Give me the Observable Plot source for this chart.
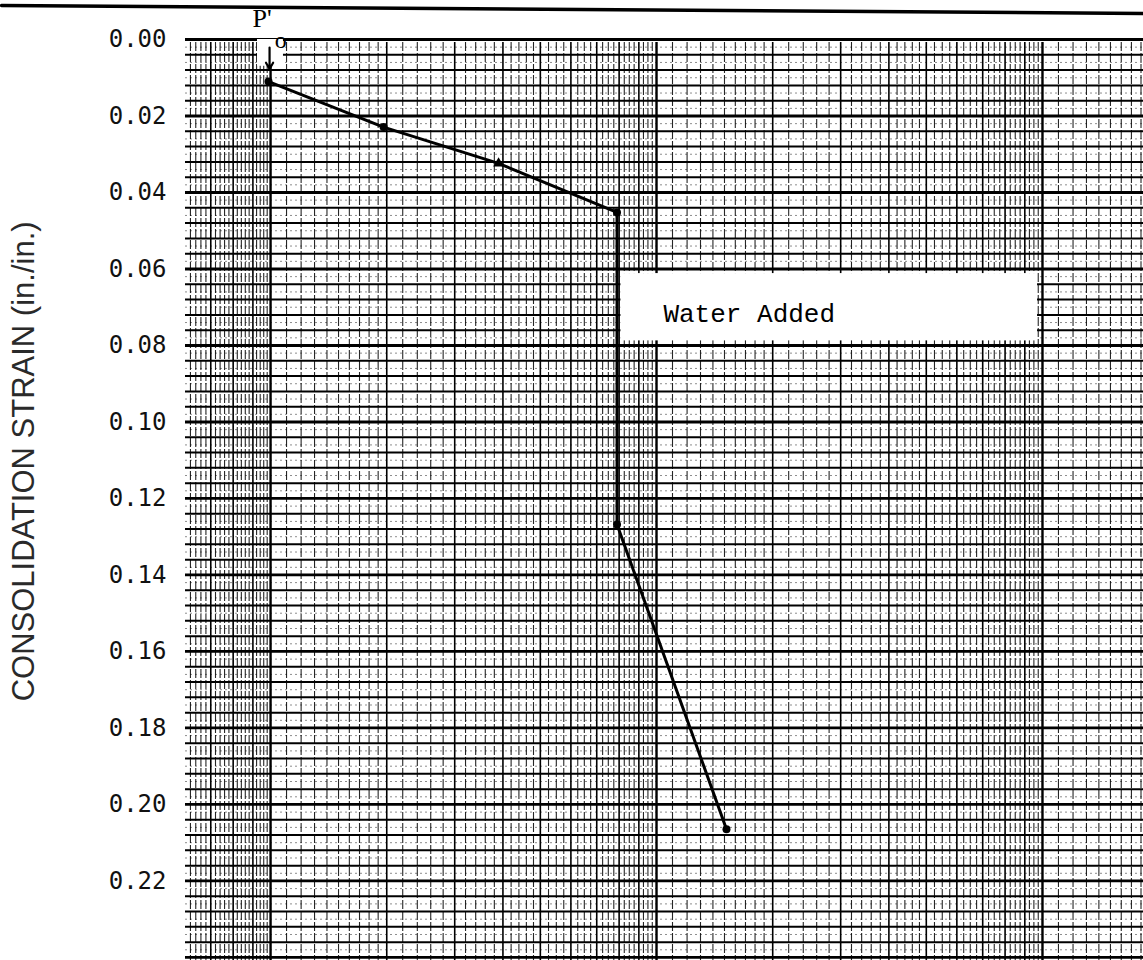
<!DOCTYPE html>
<html>
<head>
<meta charset="utf-8">
<script src="https://cdn.jsdelivr.net/npm/d3@7"></script>
<script src="https://cdn.jsdelivr.net/npm/@observablehq/plot@0.6"></script>
<style>
  html, body { margin: 0; padding: 0; background: #fff; }
  #chart svg { display: block; }
</style>
</head>
<body>
<div id="chart"></div>
<script>
// ---- data ----
const pressure = [0.0988, 0.1962, 0.3897, 0.79, 0.79, 1.518];   // log axis (unlabelled)
const strain   = [0.0110, 0.0229, 0.0324, 0.0452, 0.1268, 0.2065];
const symbols  = ["circle", "circle", "triangle", "circle", "circle", "circle"];

const strainTicks = [0, 0.02, 0.04, 0.06, 0.08, 0.10, 0.12, 0.14, 0.16, 0.18, 0.20, 0.22];
const tickLabels  = ["0.00", "0.02", "0.04", "0.06", "0.08", "0.10", "0.12", "0.14", "0.16", "0.18", "0.20", "0.22"];
const axisTitle   = "CONSOLIDATION STRAIN (in./in.)";
const noteText    = "Water Added";

const xDomain = [0.0602, 18.27];
const yDomain = [0, 0.2408];

// annotation anchors (data units)
const noteBox   = [{x1: 0.8087, x2: 9.71, y1: 0.0612, y2: 0.0788}];
const noteLabel = [{x: 1.042, y: 0.0716, t: noteText}];
const poPatch   = [{x1: 0.0925, x2: 0.108, y1: 0, y2: 0.007}];
const poLabelP  = [{x: 0.0898, y: -0.0055, t: "P'"}];
const poLabelO  = [{x: 0.1062, y: 0.0003, t: "o"}];
const poArrow   = [{x: 0.0994, y1: 0.0021, y2: 0.0077}];
const titlePos  = [{y: 0.1103, t: axisTitle}];
const topBorder = [{x: 0.0201, y: -0.0089}, {x: 18.27, y: -0.0068}];

// ---- log graph-paper grid ----
const decadeLines = [0.1, 1, 10];
const unitLines = [];
for (const d of [0.01, 0.1, 1, 10]) for (let m = 2; m <= 9; m++) unitLines.push(+(m * d).toPrecision(6));
const subSteps = [[1, 2, 0.1], [2, 5, 0.2], [5, 10, 0.25]];
const subLines = [];
for (const d of [0.1, 1, 10]) {
  for (const [a, b, s] of subSteps) {
    for (let k = 1; a + k * s < b - 1e-9; k++) {
      const m = a + k * s;
      if (Math.abs(m - Math.round(m)) > 1e-9) subLines.push(+(m * d).toPrecision(6));
    }
  }
}
// leftmost partial decade is printed more densely on the sheet
for (let k = 1; 6 + k * 0.2 < 10 - 1e-9; k++) {
  const m = 6 + k * 0.2;
  if (Math.abs(m - Math.round(m)) > 1e-9) subLines.push(+(m * 0.01).toPrecision(6));
}
const inX = v => v >= xDomain[0] && v <= xDomain[1];

const hBold = [], hMed = [], hFine = [];
for (let k = 0; k * 0.002 <= yDomain[1] + 1e-9; k++) {
  const v = +(k * 0.002).toFixed(4);
  if (k % 10 === 0) hBold.push(v);
  else if (k % 2 === 0) hMed.push(v);
  else hFine.push(v);
}

const rows = pressure.map((p, i) => ({p, s: strain[i], sym: symbols[i]}));
const labelOf = new Map(strainTicks.map((t, i) => [t, tickLabels[i]]));

const chart = Plot.plot({
  width: 1143,
  height: 960,
  marginTop: 39,
  marginLeft: 185,
  marginRight: 0,
  marginBottom: 0,
  style: {background: "#fff"},
  x: {type: "log", domain: xDomain, axis: null},
  y: {domain: yDomain, reverse: true, axis: null},
  marks: [
    // grid
    Plot.ruleY(hFine, {stroke: "#000", strokeWidth: 0.9, strokeOpacity: 0.5, strokeDasharray: "2,3"}),
    Plot.ruleX(subLines.filter(inX), {stroke: "#000", strokeWidth: 1.1, strokeOpacity: 0.85, strokeDasharray: "9,2", insetTop: 3}),
    Plot.ruleX(unitLines.filter(inX), {stroke: "#000", strokeWidth: 1.6, insetTop: 3}),
    Plot.ruleX(decadeLines.filter(inX), {stroke: "#000", strokeWidth: 2.4, insetTop: 3}),
    Plot.ruleY(hMed, {stroke: "#000", strokeWidth: 2}),
    Plot.ruleY(hBold, {stroke: "#000", strokeWidth: 2.8}),
    // white-outs
    Plot.rect(poPatch, {x1: "x1", x2: "x2", y1: "y1", y2: "y2", fill: "#fff"}),
    Plot.rect(noteBox, {x1: "x1", x2: "x2", y1: "y1", y2: "y2", fill: "#fff"}),
    // curve
    Plot.line(rows, {x: "p", y: "s", stroke: "#000", strokeWidth: 3}),
    Plot.dot(rows, {x: "p", y: "s", symbol: "sym", r: 4, fill: "#000", stroke: "none"}),
    // annotations
    Plot.text(noteLabel, {x: "x", y: "y", text: "t", textAnchor: "start", fontFamily: "Liberation Mono", fontSize: 26, fill: "#000"}),
    Plot.text(poLabelP, {x: "x", y: "y", text: "t", textAnchor: "start", fontFamily: "Liberation Serif", fontSize: 26, fill: "#000"}),
    Plot.text(poLabelO, {x: "x", y: "y", text: "t", fontFamily: "Liberation Serif", fontSize: 24, fill: "#000"}),
    Plot.arrow(poArrow, {x1: "x", x2: "x", y1: "y1", y2: "y2", stroke: "#000", strokeWidth: 2.2, headLength: 10}),
    // axis
    Plot.axisY(strainTicks, {anchor: "left", tickSize: 0, tickPadding: 19, tickFormat: d => labelOf.get(d),
      fontFamily: "DejaVu Sans Mono", fontSize: 24, fill: "#111", label: null}),
    Plot.text(titlePos, {y: "y", text: "t", frameAnchor: "left", textAnchor: "middle", lineAnchor: "middle",
      dx: -161, rotate: -90, fontFamily: "Liberation Sans", fontSize: 31, fill: "#2a2a2a"}),
    // scanned sheet edge
    Plot.line(topBorder, {x: "x", y: "y", stroke: "#000", strokeWidth: 3.5})
  ]
});
document.getElementById("chart").appendChild(chart);
</script>
</body>
</html>
